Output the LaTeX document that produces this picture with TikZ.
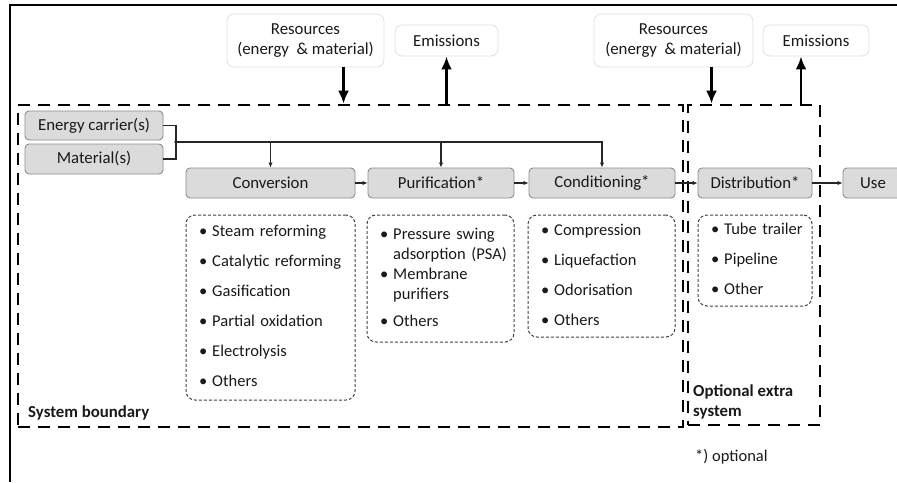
\documentclass[tikz,border=0pt]{standalone}
\usepackage{fontspec}
\setmainfont{Carlito}
\usetikzlibrary{arrows.meta,positioning,calc}

\begin{document}
\begin{tikzpicture}[
    x=1pt, y=-1pt,
    every node/.style={text=black!90},
    box/.style={rectangle, draw=black!45, line width=0.9pt, rounded corners=4pt, fill=black!14, inner sep=0pt, font=\fontsize{16.8}{19}\selectfont},
    inbox/.style={rectangle, draw=black!12, line width=0.8pt, rounded corners=7pt, fill=white, inner sep=0pt, align=center, font=\fontsize{16.8}{20}\selectfont},
    listbox/.style={rectangle, draw=black!75, densely dashed, line width=1pt, rounded corners=9pt, inner xsep=13pt, inner ysep=0pt, align=left, font=\fontsize{16.5}{20}\selectfont},
    boundary/.style={rectangle, draw=black, line width=2.6pt, dash pattern=on 12pt off 8pt, inner sep=0pt},
    flow/.style={-{Latex[length=5pt,width=4.5pt]}, line width=1.3pt, black!85},
    bigarrow/.style={-{Latex[length=13pt,width=11pt]}, line width=2.6pt},
    tag/.style={font=\fontsize{16.8}{20}\selectfont\bfseries, align=left, inner sep=0pt}
]
\clip (0,0) rectangle (897,482);

% Frame
\draw[line width=1.5pt] (10,482) -- (10,5) -- (897,5);

% Boundaries
\node[boundary, minimum width=665pt, minimum height=322pt] (sys) at (350.5,266) {};
\node[boundary, minimum width=132pt, minimum height=320pt] (opt) at (754,265) {};

% Inputs and outputs
\node[inbox, minimum width=157pt, minimum height=53pt] (resA) at (305.5,40.5) {Resources\\(energy\ \ \& material)};
\node[inbox, minimum width=103pt, minimum height=31pt] (emA) at (446.5,40.5) {Emissions};
\node[inbox, minimum width=159pt, minimum height=53pt] (resB) at (673.5,40.5) {Resources\\(energy\ \ \& material)};
\node[inbox, minimum width=106pt, minimum height=31pt] (emB) at (816,40.5) {Emissions};

\coordinate (resAin) at ([xshift=38pt]resA.south);
\coordinate (resBin) at ([xshift=38pt]resB.south);
\coordinate (emBout) at ([xshift=-15pt]emB.south);
\draw[bigarrow] (resAin) -- (resAin |- sys.north);
\draw[bigarrow] (emA.south |- sys.north) -- (emA.south);
\draw[bigarrow] (resBin) -- (resBin |- opt.north);
\draw[bigarrow] (emBout |- opt.north) -- (emBout);

% Feed
\node[box, minimum width=138pt, minimum height=29pt] (energy) at (94,125.5) {Energy carrier(s)};
\node[box, minimum width=138pt, minimum height=30pt] (material) at (94,159) {Material(s)};

% Process chain
\node[box, minimum width=169pt, minimum height=30pt] (conv) at (270.5,183) {Conversion};
\node[box, minimum width=146pt, minimum height=30pt] (puri) at (441,183) {Purification*};
\node[box, minimum width=146pt, minimum height=30pt] (cond) at (602,183) {Conditioning*};
\node[box, minimum width=114pt, minimum height=30pt] (dist) at (755,183) {Distribution*};
\node[box, minimum width=60pt, minimum height=30pt] (use) at (873,183) {Use};

% Feed lines
\coordinate (junc) at (176,142);
\draw[line width=1.3pt, black!85] (energy.east) -| (junc) |- (material.east);
\fill[black!85] (junc) circle (1.8);
\draw[flow] (junc) -| (cond.north);
\draw[flow] (junc -| conv.north) -- (conv.north);
\draw[flow] (junc -| puri.north) -- (puri.north);

\draw[flow] (conv) -- (puri);
\draw[flow] (puri) -- (cond);
\draw[flow] (cond) -- (dist);
\draw[flow] (dist) -- (use);

% Options
\node[listbox, text width=143pt, minimum height=185pt] (convlist) at (270.5,307.5) {
\begin{tabular}{@{}l@{\hspace{5pt}}l@{}}
\textbullet & Steam reforming\\[10pt]
\textbullet & Catalytic reforming\\[10pt]
\textbullet & Gasification\\[10pt]
\textbullet & Partial oxidation\\[10pt]
\textbullet & Electrolysis\\[10pt]
\textbullet & Others
\end{tabular}};
\node[listbox, text width=121pt, minimum height=127pt] (purilist) at (440.5,278.5) {
\begin{tabular}{@{}l@{\hspace{5pt}}l@{}}
\textbullet & Pressure swing\\
 & adsorption (PSA)\\
\textbullet & Membrane\\
 & purifiers\\[7pt]
\textbullet & Others
\end{tabular}};
\node[listbox, text width=121pt, minimum height=122pt] (condlist) at (601.5,276) {
\begin{tabular}{@{}l@{\hspace{5pt}}l@{}}
\textbullet & Compression\\[10pt]
\textbullet & Liquefaction\\[10pt]
\textbullet & Odorisation\\[10pt]
\textbullet & Others
\end{tabular}};
\node[listbox, text width=88pt, minimum height=91pt] (distlist) at (755,260.5) {
\begin{tabular}{@{}l@{\hspace{5pt}}l@{}}
\textbullet & Tube trailer\\[10pt]
\textbullet & Pipeline\\[10pt]
\textbullet & Other
\end{tabular}};

% Labels
\node[tag, anchor=west] (systag) at (28,413) {System boundary};
\node[tag, anchor=north west] (opttag) at (693,384) {Optional extra\\system};
\node[font=\fontsize{16.5}{20}\selectfont, anchor=west, inner sep=0pt] (note) at (695,457) {*) optional};

\end{tikzpicture}
\end{document}
